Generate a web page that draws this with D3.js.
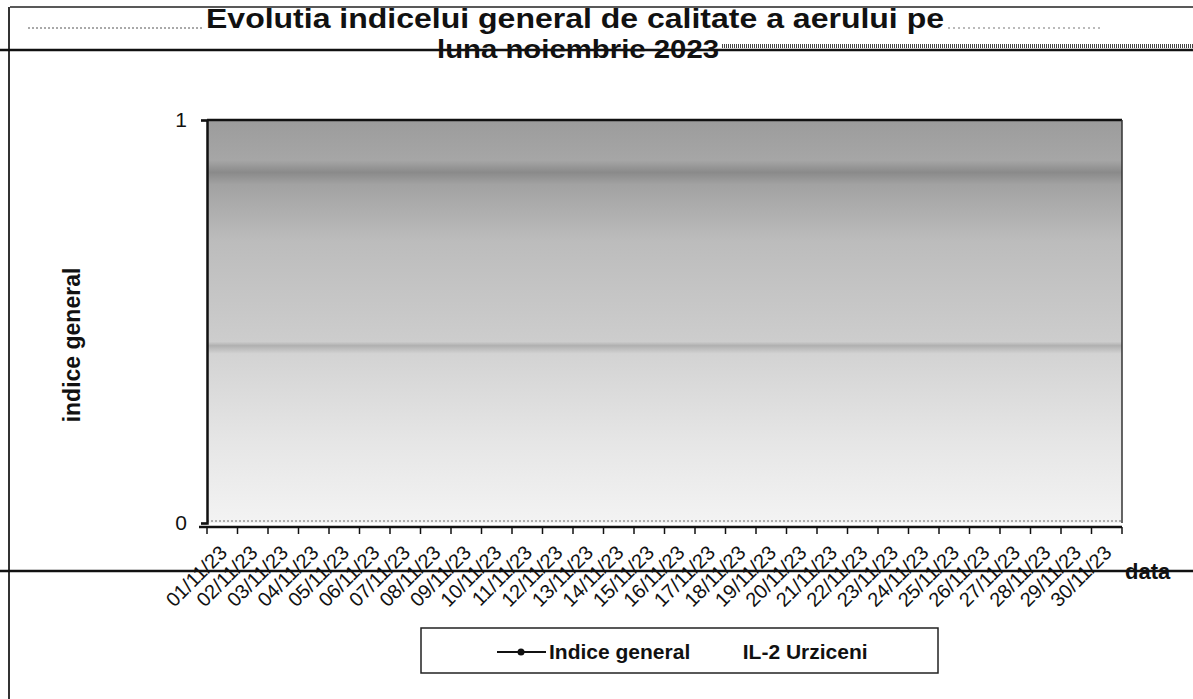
<!DOCTYPE html>
<html>
<head>
<meta charset="utf-8">
<script src="https://cdn.jsdelivr.net/npm/d3@7"></script>
<style>
  html, body { margin: 0; padding: 0; background: #fff; }
  svg { display: block; font-family: "Liberation Sans", Arial, sans-serif; }
</style>
</head>
<body>
<svg id="chart" width="1193" height="699"></svg>
<script>
// ---- data ----
const titleLines = ["Evolutia indicelui general de calitate a aerului pe", "luna noiembrie 2023"];
const dates = ["01/11/23","02/11/23","03/11/23","04/11/23","05/11/23","06/11/23","07/11/23","08/11/23","09/11/23","10/11/23",
               "11/11/23","12/11/23","13/11/23","14/11/23","15/11/23","16/11/23","17/11/23","18/11/23","19/11/23","20/11/23",
               "21/11/23","22/11/23","23/11/23","24/11/23","25/11/23","26/11/23","27/11/23","28/11/23","29/11/23","30/11/23"];
// no readable values in the picture: the series is empty
const indiceValues = [null,null,null,null,null,null,null,null,null,null,
                      null,null,null,null,null,null,null,null,null,null,
                      null,null,null,null,null,null,null,null,null,null];
const yTicks = [0, 1];
const seriesName = "Indice general         IL-2 Urziceni";
const yAxisTitle = "indice general";
const xAxisTitle = "data";

// ---- layout ----
const svg = d3.select("#chart");
const plot = { left: 207, right: 1122, top: 120, bottom: 523 };

const x = d3.scaleBand().domain(dates).range([plot.left, plot.right]).padding(0);
const y = d3.scaleLinear().domain([0, 1]).range([plot.bottom, plot.top]);

// page frame lines (scanned page)
svg.append("line").attr("x1", 10).attr("x2", 1193).attr("y1", 7).attr("y2", 7)
  .attr("stroke", "#222").attr("stroke-width", 1.5);
svg.append("line").attr("x1", 9).attr("x2", 9).attr("y1", 7).attr("y2", 699)
  .attr("stroke", "#333").attr("stroke-width", 2);
svg.append("line").attr("x1", 28).attr("x2", 203).attr("y1", 28).attr("y2", 28)
  .attr("stroke", "#555").attr("stroke-width", 1).attr("stroke-dasharray", "2,2");
svg.append("line").attr("x1", 948).attr("x2", 1100).attr("y1", 28).attr("y2", 28)
  .attr("stroke", "#777").attr("stroke-width", 1).attr("stroke-dasharray", "2,3");
svg.append("line").attr("x1", 0).attr("x2", 1193).attr("y1", 50).attr("y2", 50)
  .attr("stroke", "#111").attr("stroke-width", 2.5);
svg.append("line").attr("x1", 722).attr("x2", 1193).attr("y1", 46).attr("y2", 46)
  .attr("stroke", "#444").attr("stroke-width", 4).attr("stroke-dasharray", "1,1");
svg.append("line").attr("x1", 0).attr("x2", 1193).attr("y1", 571).attr("y2", 571)
  .attr("stroke", "#111").attr("stroke-width", 2.5);

// plot background gradient
const defs = svg.append("defs");
const grad = defs.append("linearGradient").attr("id", "bg").attr("x1", 0).attr("y1", 0).attr("x2", 0).attr("y2", 1);
[[0, "#9c9c9c"], [0.1, "#a6a6a6"], [0.13, "#8a8a8a"], [0.16, "#a2a2a2"], [0.3, "#bcbcbc"],
 [0.55, "#cdcdcd"], [0.56, "#b0b0b0"], [0.58, "#d3d3d3"], [0.8, "#e6e6e6"], [1, "#f3f3f3"]]
  .forEach(([o, c]) => grad.append("stop").attr("offset", o).attr("stop-color", c));

svg.append("rect")
  .attr("x", plot.left).attr("y", plot.top)
  .attr("width", plot.right - plot.left).attr("height", plot.bottom - plot.top)
  .attr("fill", "url(#bg)");

// plot border
svg.append("line").attr("x1", plot.left).attr("x2", plot.right).attr("y1", plot.top).attr("y2", plot.top)
  .attr("stroke", "#111").attr("stroke-width", 2.5);
svg.append("line").attr("x1", plot.right).attr("x2", plot.right).attr("y1", plot.top).attr("y2", plot.bottom)
  .attr("stroke", "#333").attr("stroke-width", 1.5);
svg.append("line").attr("x1", plot.left).attr("x2", plot.right).attr("y1", plot.bottom - 2).attr("y2", plot.bottom - 2)
  .attr("stroke", "#666").attr("stroke-width", 1).attr("stroke-dasharray", "2,2");

// y axis
const yAxis = svg.append("g").attr("transform", `translate(${plot.left},0)`)
  .call(d3.axisLeft(y).tickValues(yTicks).tickFormat(d3.format("d")).tickSize(6).tickPadding(14));
yAxis.select(".domain").attr("stroke", "#111").attr("stroke-width", 2.5);
yAxis.selectAll(".tick line").attr("stroke", "#111").attr("stroke-width", 1.5);
yAxis.selectAll(".tick text").attr("font-size", 21).attr("fill", "#111")
  .attr("font-family", "'Liberation Sans', Arial, sans-serif");

// x axis (ticks between categories)
const xAxisG = svg.append("g").attr("transform", `translate(0,${plot.bottom + 4})`);
xAxisG.append("line").attr("x1", plot.left - 8).attr("x2", plot.right).attr("y1", 0).attr("y2", 0)
  .attr("stroke", "#111").attr("stroke-width", 2.5);
const boundaries = dates.map(d => x(d)).concat([plot.right]);
xAxisG.selectAll("line.tk").data(boundaries).join("line").attr("class", "tk")
  .attr("x1", d => d).attr("x2", d => d).attr("y1", 0).attr("y2", 7)
  .attr("stroke", "#111").attr("stroke-width", 1.5);

// rotated date labels
svg.append("g").selectAll("text").data(dates).join("text")
  .attr("transform", d => `translate(${x(d) + x.bandwidth() / 2 + 6},${554}) rotate(-45)`)
  .attr("text-anchor", "end")
  .attr("font-size", 20)
  .attr("fill", "#111")
  .text(d => d);

// axis titles
svg.append("text").attr("x", 1125).attr("y", 579)
  .attr("font-size", 22).attr("font-weight", "bold").attr("fill", "#111").text(xAxisTitle);
svg.append("text").attr("transform", "translate(80,345) rotate(-90)")
  .attr("text-anchor", "middle").attr("font-size", 23).attr("font-weight", "bold").attr("fill", "#111")
  .text(yAxisTitle);

// chart title (two lines, condensed to the reference widths)
const titleG = svg.append("g");
titleG.append("text").attr("x", 206).attr("y", 28)
  .attr("font-size", 28).attr("font-weight", "bold").attr("fill", "#111")
  .attr("textLength", 738).attr("lengthAdjust", "spacingAndGlyphs")
  .text(titleLines[0]);
titleG.append("text").attr("x", 437).attr("y", 58)
  .attr("font-size", 26).attr("font-weight", "bold").attr("fill", "#111")
  .attr("textLength", 282).attr("lengthAdjust", "spacingAndGlyphs")
  .text(titleLines[1]);

// series line (empty in the source)
const line = d3.line().defined(d => d.v != null).x(d => x(d.date) + x.bandwidth() / 2).y(d => y(d.v));
const series = dates.map((d, i) => ({ date: d, v: indiceValues[i] }));
svg.append("path").datum(series).attr("fill", "none").attr("stroke", "#111").attr("stroke-width", 2).attr("d", line);
svg.append("g").selectAll("circle").data(series.filter(d => d.v != null)).join("circle")
  .attr("cx", d => x(d.date) + x.bandwidth() / 2).attr("cy", d => y(d.v)).attr("r", 3.5).attr("fill", "#111");

// legend
const lg = svg.append("g");
lg.append("rect").attr("x", 421).attr("y", 628).attr("width", 517).attr("height", 45)
  .attr("fill", "#fff").attr("stroke", "#222").attr("stroke-width", 1.5);
lg.append("line").attr("x1", 497).attr("x2", 546).attr("y1", 652).attr("y2", 652)
  .attr("stroke", "#111").attr("stroke-width", 2);
lg.append("circle").attr("cx", 521).attr("cy", 652).attr("r", 3.5).attr("fill", "#111");
lg.append("text").attr("x", 549).attr("y", 659).attr("font-size", 21).attr("font-weight", "bold")
  .attr("fill", "#111").attr("xml:space", "preserve").style("white-space", "pre").text(seriesName);
</script>
</body>
</html>
